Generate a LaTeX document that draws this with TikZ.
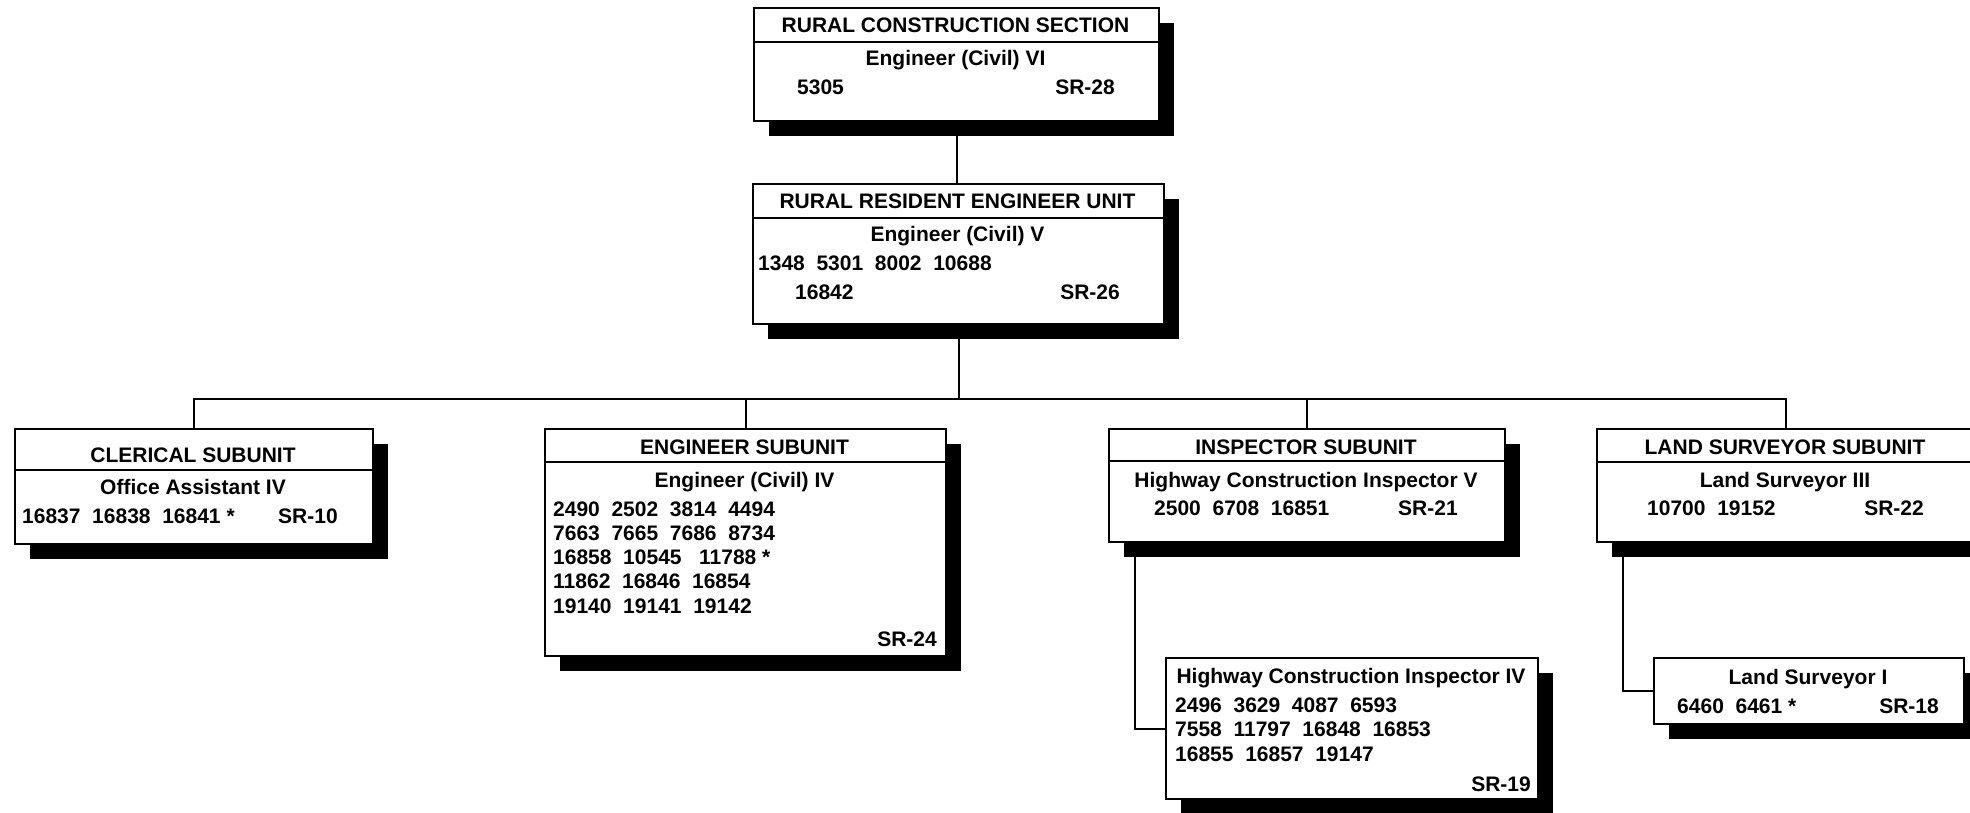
\documentclass[tikz,border=0pt]{standalone}
\usepackage{fontspec}
\setmainfont{Liberation Sans}
\usetikzlibrary{shadows}

\begin{document}
\begin{tikzpicture}[x=1pt, y=-1pt,
    box/.style={draw, line width=2pt, fill=white, inner sep=0pt, anchor=north west,
        drop shadow={shadow xshift=15pt, shadow yshift=-15pt, fill=black, opacity=1}},
    txt/.style={font=\bfseries\fontsize{21}{25}\selectfont, inner sep=0pt},
    conn/.style={line width=2pt}]
    \useasboundingbox (0,0) rectangle (1970,813);

    % Section
    \node[box, minimum width=405pt, minimum height=113pt] (section) at (753,7) {};
    \draw[conn] ([yshift=-35pt]section.north west) -- ([yshift=-35pt]section.north east);
    \node[txt, anchor=base] (section-name) at (955.5,33) {RURAL CONSTRUCTION SECTION};
    \node[txt, anchor=base] (section-title) at (955.5,66) {Engineer (Civil) VI};
    \node[txt, anchor=base west] (section-pos) at (797,95) {5305};
    \node[txt, anchor=base east] (section-sr) at (1115,95) {SR-28};

    % Unit
    \node[box, minimum width=411pt, minimum height=140pt] (unit) at (752,183) {};
    \draw[conn] ([yshift=-35pt]unit.north west) -- ([yshift=-35pt]unit.north east);
    \node[txt, anchor=base] (unit-name) at (957.5,208) {RURAL RESIDENT ENGINEER UNIT};
    \node[txt, anchor=base] (unit-title) at (957.5,241) {Engineer (Civil) V};
    \node[txt, anchor=base west] (unit-pos) at (758,270) {1348~~5301~~8002~~10688};
    \node[txt, anchor=base west] (unit-pos2) at (795,299) {16842};
    \node[txt, anchor=base east] (unit-sr) at (1120,299) {SR-26};

    % Clerical subunit
    \node[box, minimum width=358pt, minimum height=115pt] (clerical) at (14,428) {};
    \draw[conn] ([yshift=-42pt]clerical.north west) -- ([yshift=-42pt]clerical.north east);
    \node[txt, anchor=base] (clerical-name) at (193,462) {CLERICAL SUBUNIT};
    \node[txt, anchor=base] (clerical-title) at (193,494) {Office Assistant IV};
    \node[txt, anchor=base west] (clerical-pos) at (22,523) {16837~~16838~~16841~*};
    \node[txt, anchor=base west] (clerical-sr) at (278,523) {SR-10};

    % Engineer subunit
    \node[box, minimum width=401pt, minimum height=227pt] (engineer) at (544,428) {};
    \draw[conn] ([yshift=-34pt]engineer.north west) -- ([yshift=-34pt]engineer.north east);
    \node[txt, anchor=base] (engineer-name) at (744.5,454) {ENGINEER SUBUNIT};
    \node[txt, anchor=base] (engineer-title) at (744.5,487) {Engineer (Civil) IV};
    \foreach \row [count=\i] in {2490~~2502~~3814~~4494,
        7663~~7665~~7686~~8734,
        16858~~10545~~~11788~*,
        11862~~16846~~16854,
        19140~~19141~~19142}
        \node[txt, anchor=base west] (engineer-pos-\i) at (553,491.75+\i*24.25) {\row};
    \node[txt, anchor=base east] (engineer-sr) at (937,646) {SR-24};

    % Inspector subunit
    \node[box, minimum width=396pt, minimum height=113pt] (inspector) at (1108,428) {};
    \draw[conn] ([yshift=-33pt]inspector.north west) -- ([yshift=-33pt]inspector.north east);
    \node[txt, anchor=base] (inspector-name) at (1306,454) {INSPECTOR SUBUNIT};
    \node[txt, anchor=base] (inspector-title) at (1306,487) {Highway Construction Inspector V};
    \node[txt, anchor=base west] (inspector-pos) at (1154,515) {2500~~6708~~16851};
    \node[txt, anchor=base west] (inspector-sr) at (1398,515) {SR-21};

    % Land surveyor subunit
    \node[box, minimum width=378pt, minimum height=113pt] (surveyor) at (1596,428) {};
    \draw[conn] ([yshift=-34pt]surveyor.north west) -- ([yshift=-34pt]surveyor.north east);
    \node[txt, anchor=base] (surveyor-name) at (1785,454) {LAND SURVEYOR SUBUNIT};
    \node[txt, anchor=base] (surveyor-title) at (1785,487) {Land Surveyor III};
    \node[txt, anchor=base west] (surveyor-pos) at (1647,515) {10700~~19152};
    \node[txt, anchor=base east] (surveyor-sr) at (1924,515) {SR-22};

    % Inspector IV
    \node[box, minimum width=372pt, minimum height=141pt] (inspfour) at (1165,657) {};
    \node[txt, anchor=base] (inspfour-title) at (1351,683) {Highway Construction Inspector IV};
    \foreach \row [count=\i] in {2496~~3629~~4087~~6593,
        7558~~11797~~16848~~16853,
        16855~~16857~~19147}
        \node[txt, anchor=base west] (inspfour-pos-\i) at (1175,687.5+\i*24.5) {\row};
    \node[txt, anchor=base east] (inspfour-sr) at (1531,791) {SR-19};

    % Land surveyor I
    \node[box, minimum width=310pt, minimum height=66pt] (surveyorone) at (1653,657) {};
    \node[txt, anchor=base] (surveyorone-title) at (1808,684) {Land Surveyor I};
    \node[txt, anchor=base west] (surveyorone-pos) at (1677,713) {6460~~6461~*};
    \node[txt, anchor=base east] (surveyorone-sr) at (1939,713) {SR-18};

    % Connectors
    \path (unit.south) ++(0,74) coordinate (bus);
    \draw[conn] (section.south) -- (section.south |- unit.north);
    \draw[conn] (unit.south) -- (bus);
    \draw[conn] (clerical.north) |- (bus) -| (surveyor.north);
    \draw[conn] (engineer.north) -- (engineer.north |- bus);
    \draw[conn] (inspector.north) -- (inspector.north |- bus);
    \draw[conn] ([xshift=27pt]inspector.south west) |- (inspfour.west);
    \draw[conn] ([xshift=27pt]surveyor.south west) |- (surveyorone.west);
\end{tikzpicture}
\end{document}
